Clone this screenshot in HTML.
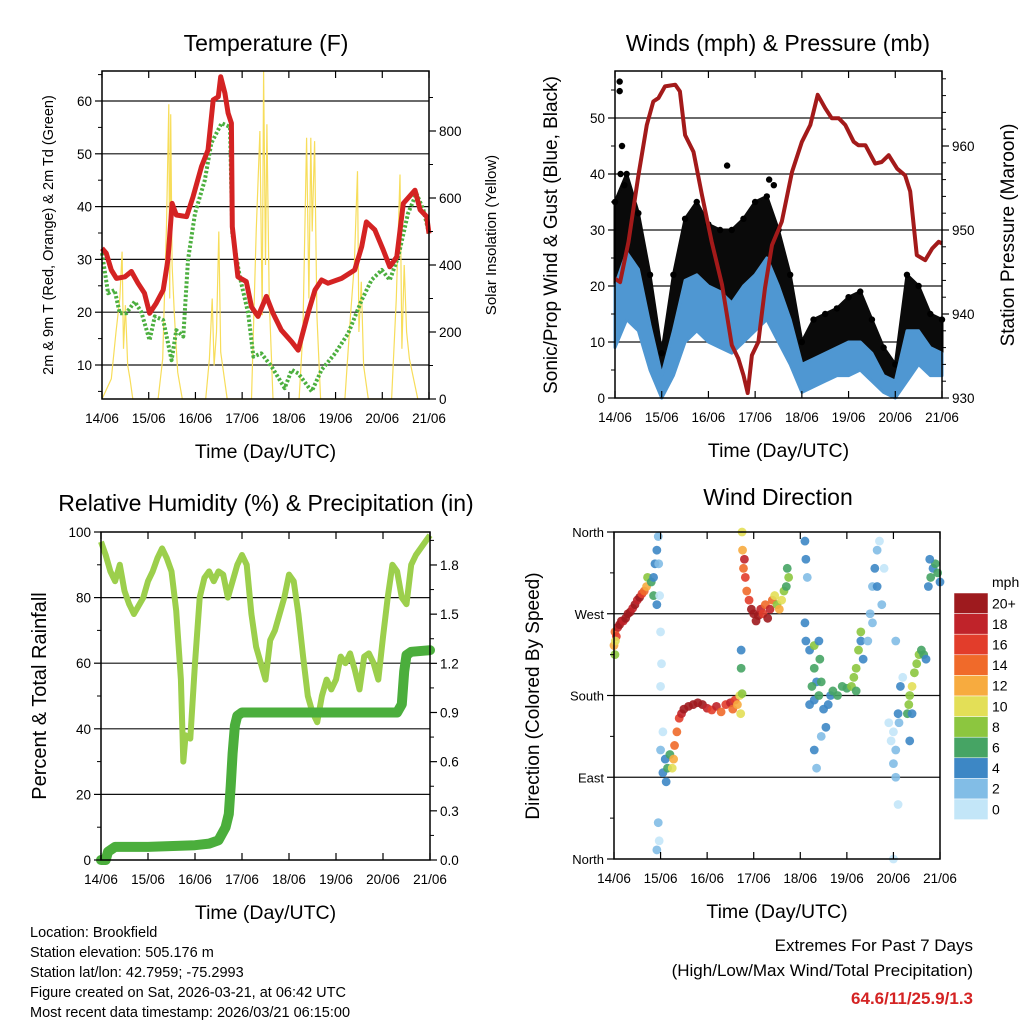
<!DOCTYPE html>
<html><head><meta charset="utf-8">
<style>
html,body{margin:0;padding:0;background:#fff;}
svg{display:block;font-family:"Liberation Sans",Arial,sans-serif;}
</style></head>
<body>
<svg id="chart" width="1024" height="1024" viewBox="0 0 1024 1024"></svg>
<script>
// ---------- DATA ----------
const dayLabels = ["14/06","15/06","16/06","17/06","18/06","19/06","20/06","21/06"];
// Temperature panel
const tempTime = [0,0.09,0.2,0.31,0.49,0.63,0.77,0.91,1.02,1.16,1.31,1.41,1.5,1.59,1.81,1.95,2.13,2.27,2.38,2.49,2.54,2.63,2.7,2.77,2.79,2.91,3.09,3.2,3.34,3.52,3.66,3.84,4.06,4.2,4.41,4.56,4.7,4.84,5.13,5.41,5.56,5.66,5.84,6.02,6.16,6.31,6.45,6.7,6.81,6.95,7.0];
const tempValues = [32.1,31.2,28,26.4,26.7,27.7,25.5,23.6,19.8,21.7,24.2,29.9,40.6,38.4,38.1,41.9,47.6,50.7,60.2,60.8,64.6,61.5,57.7,55.8,36.2,26.7,25.8,21,19.2,23,19.8,16.6,14.4,12.8,19.8,24.2,26.1,25.5,26.4,28,32.4,37.1,35.6,31.8,28.6,30.5,40.6,43.1,39.4,38.1,34.9];
const dewTime = [0,0.13,0.27,0.38,0.52,0.7,0.84,1.02,1.13,1.31,1.49,1.59,1.74,1.84,1.99,2.2,2.34,2.56,2.74,2.79,2.95,3.13,3.24,3.41,3.63,3.91,4.06,4.2,4.49,4.7,4.99,5.27,5.56,5.77,5.99,6.16,6.34,6.55,6.73,6.88,7.0];
const dewValues = [31.2,23.6,24.2,19.8,19.8,22,20.1,14.7,19.2,18.5,10.9,16.6,15.4,29.9,38.7,45,52,55.8,55.1,34.9,26.7,19.8,11.6,12.2,9.7,5.6,9.1,8.4,5,9.1,12.2,16,22.3,26.1,28,26.1,30.5,38.7,42.5,39.4,34.9];
const solarTime = [0,0.2,0.3,0.38,0.43,0.46,0.5,0.55,0.6,0.66,1.2,1.3,1.38,1.43,1.45,1.47,1.5,1.55,1.62,1.72,2.22,2.3,2.36,2.4,2.45,2.5,2.54,2.6,2.68,3.2,3.3,3.38,3.43,3.46,3.5,3.53,3.58,3.66,4.22,4.3,4.38,4.43,4.47,4.5,4.55,4.6,4.68,5.2,5.32,5.4,5.47,5.5,5.55,5.6,5.7,6.2,6.3,6.38,6.42,6.47,6.52,6.58,6.7,6.76];
const solarValues = [0,60,200,300,440,150,280,100,60,0,0,120,520,880,300,850,400,250,80,0,0,120,300,100,200,500,140,80,0,0,500,800,250,980,400,820,300,0,0,200,780,300,780,500,770,250,0,0,250,400,680,200,350,100,0,0,300,670,150,400,200,120,40,0];
// Winds panel
const windTime = [0,0.25,0.5,0.75,1,1.25,1.5,1.75,2,2.25,2.5,2.75,3,3.25,3.5,3.75,4,4.25,4.5,4.75,5,5.25,5.5,5.75,6,6.25,6.5,6.75,7];
const windLo = [9,14,12,5,0,4,10,12,10,9,8,10,12,14,10,6,1,2,3,4,4,5,3,1,0,3,6,4,4];
const windHi = [20,26,23,13,4,12,21,22,20,19,17,20,22,25,20,14,6,7,8,9,10,10,8,4,3,12,12,9,8];
const gustLo = [18,22,20,10,2,10,20,20,18,16,15,18,20,22,17,12,3,5,7,8,9,9,6,3,1,6,10,7,7];
const gustHi = [35,40,33,22,8,22,32,35,31,30,30,32,35,36,30,22,10,14,15,16,18,19,14,9,6,22,20,15,14];
const gustOutT = [0.1,0.1,0.15,0.12,2.4,3.3,3.4,0.2];
const gustOutV = [56.5,54.8,45,40,41.5,39,38,38];
const presTime = [0,0.11,0.29,0.5,0.68,0.82,0.93,1.07,1.29,1.39,1.5,1.68,1.86,2.07,2.29,2.5,2.64,2.75,2.84,2.93,3.07,3.21,3.36,3.57,3.79,4,4.18,4.34,4.5,4.64,4.79,4.93,5.11,5.21,5.36,5.57,5.71,5.86,6.04,6.21,6.32,6.46,6.64,6.79,6.93,7];
const presValues = [944.2,943.8,948.6,956.5,962.5,965.3,965.7,967.1,967.3,966.5,961.3,959.3,954.2,948.6,943.5,936.3,934.7,932.7,930.6,935.1,936.7,943.1,948.2,951,956.9,960.5,962.5,966.1,964.5,963.3,963.3,962.5,960.5,960.1,960.1,957.9,958.1,958.9,957.3,956.5,954.6,947,946.4,947.8,948.6,948.4];
// RH panel
const rhTime = [0,0.1,0.2,0.3,0.4,0.5,0.6,0.7,0.9,1,1.1,1.2,1.3,1.4,1.5,1.6,1.7,1.75,1.8,1.9,2,2.1,2.2,2.3,2.4,2.5,2.6,2.7,2.8,2.9,3,3.1,3.2,3.3,3.4,3.5,3.6,3.7,3.8,3.9,4,4.1,4.2,4.3,4.4,4.5,4.6,4.7,4.8,4.9,5,5.1,5.2,5.3,5.4,5.5,5.6,5.7,5.8,5.9,6,6.1,6.2,6.3,6.4,6.5,6.6,6.7,6.8,6.9,7];
const rhValues = [97,93,88,85,90,82,78,75,80,85,88,92,95,92,88,76,55,30,38,37,60,80,86,88,85,88,87,80,85,90,93,90,75,65,60,55,67,70,75,80,87,85,75,62,50,45,42,50,55,52,55,62,60,63,58,52,62,63,60,55,68,80,90,88,80,78,90,93,95,97,99];
const rainTime = [0,0.1,0.15,0.3,1,2,2.3,2.5,2.65,2.72,2.76,2.8,2.85,2.9,3,4,5,6,6.3,6.4,6.45,6.5,6.6,7];
const rainValues = [0,0,0.05,0.08,0.08,0.09,0.1,0.12,0.2,0.28,0.45,0.65,0.82,0.88,0.9,0.9,0.9,0.9,0.9,0.95,1.15,1.25,1.27,1.28];
// Wind direction panel
const dirTime = [0,0.02,0.05,0.08,0.12,0.16,0.2,0.25,0.3,0.35,0.4,0.45,0.5,0.55,0.6,0.65,0.7,0.02,0.03,
0.72,0.8,0.85,0.88,0.92,0.95,0.92,0.85,0.96,
0.98,1.0,1.02,1.0,1.05,1.0,0.95,0.92,0.97,
1.05,1.1,1.12,1.15,1.2,1.25,1.28,1.3,1.35,1.4,1.45,1.5,1.6,1.7,1.8,1.9,2.0,2.1,2.2,2.3,2.4,2.5,2.55,2.6,2.65,2.7,2.72,2.75,2.73,2.73,
2.75,2.76,2.78,2.8,2.82,2.85,2.9,2.95,3.0,3.05,3.1,3.15,3.2,3.25,3.3,3.35,3.4,3.45,3.5,3.55,3.6,3.65,3.7,3.75,3.72,
4.1,4.12,4.15,4.1,4.12,4.2,4.3,4.3,4.35,4.4,4.42,4.45,4.3,4.35,4.45,4.2,4.25,4.3,4.4,4.5,4.55,4.6,4.65,4.7,4.8,4.9,5.0,5.1,5.15,5.2,5.25,5.3,5.3,5.35,5.2,
5.45,5.5,5.55,5.6,5.65,5.7,5.65,5.55,5.75,5.8,
5.9,5.95,6.0,6.05,6.1,6.05,6.0,6.1,6.12,6.15,6.2,6.0,6.05,
6.3,6.33,6.35,6.4,6.45,6.5,6.55,6.6,6.65,6.7,6.4,6.35,
6.75,6.8,6.85,6.9,6.95,7.0,6.78];
const dirValues = [235,250,245,255,258,262,262,265,270,272,276,280,285,288,292,295,300,225,240,
310,305,310,325,340,355,280,290,325,
290,250,215,190,140,120,40,10,20,
95,110,85,100,115,100,110,125,140,155,160,165,168,170,172,170,166,164,168,162,170,172,165,175,170,180,160,182,210,230,
360,340,320,330,310,295,285,275,270,262,268,275,270,280,265,275,285,290,280,275,285,295,300,310,320,
350,330,310,260,240,230,235,210,195,240,220,195,120,100,135,170,190,175,180,165,145,170,180,185,180,190,188,190,200,210,230,250,240,220,185,
240,270,300,320,340,350,300,260,280,320,
150,130,105,90,60,120,140,160,150,190,200,0,240,
160,170,180,190,205,215,225,230,225,220,160,130,
300,310,320,325,315,305,330];
const dirSpeed = [12,14,16,18,20,20,18,20,20,20,18,20,18,20,16,14,12,8,10,
8,6,4,4,4,2,4,6,2,
0,0,0,0,0,2,2,2,0,
4,4,4,6,6,10,12,14,14,16,18,20,20,20,20,20,18,16,18,14,16,18,14,16,12,10,10,8,6,4,
10,12,14,18,16,14,16,20,20,20,20,18,16,14,20,18,14,10,8,12,10,8,6,8,6,
4,4,2,4,4,4,8,6,4,4,6,6,4,2,2,4,6,4,6,4,4,4,4,6,6,6,6,8,8,8,8,8,4,4,6,
2,2,2,4,2,0,4,2,2,0,
0,0,2,2,0,2,0,4,2,4,0,0,2,
6,8,8,10,8,8,8,6,6,4,4,4,
4,6,4,6,6,4,4];
const speedLabels = ["20+","18","16","14","12","10","8","6","4","2","0"];
const speedColors = ["#9e1a1e","#c0232a","#e23d2b","#f06a2a","#f7ab3f","#e3df57","#8cc63f","#46a464","#3d87c5","#82bde6","#c3e6f8"];

// ---------- HELPERS ----------
const NS="http://www.w3.org/2000/svg";
const svg=document.getElementById('chart');
function el(tag,attrs,parent){const e=document.createElementNS(NS,tag);for(const k in attrs)e.setAttribute(k,attrs[k]);(parent||svg).appendChild(e);return e;}
function txt(s,x,y,size,anchor,parent,extra){const t=el('text',Object.assign({x:x,y:y,'font-size':size,'text-anchor':anchor||'middle',fill:'#000'},extra||{}),parent);t.textContent=s;return t;}
function lineStr(xs,ys,fx,fy){return xs.map((t,i)=>(i?'L':'M')+fx(t).toFixed(1)+','+fy(ys[i]).toFixed(1)).join('');}

function panel(name,b,cfg){
  const g=el('g',{},svg);
  
  
  const fx=t=>b.x0+(t/7)*(b.x1-b.x0);
  cfg.grid.forEach(y=>{const l=el('line',{x1:b.x0,x2:b.x1,y1:y,y2:y,stroke:'#111','stroke-width':1.2},g);
    });
  return {g,fx};
}
function frame(g,b){
  const r=el('rect',{x:b.x0,y:b.y0,width:b.x1-b.x0,height:b.y1-b.y0,fill:'none',stroke:'#000','stroke-width':1.5},g);
  
  for(let d=0;d<=7;d++){const x=b.x0+d*(b.x1-b.x0)/7;
    el('line',{x1:x,x2:x,y1:b.y1,y2:b.y1-7,stroke:'#000','stroke-width':1.2},g);
    el('line',{x1:x,x2:x,y1:b.y0,y2:b.y0+7,stroke:'#000','stroke-width':1.2},g);
    const t=txt(dayLabels[d],x,b.y1+24,13.5,'middle',g);
    }
  const xt=txt('Time (Day/UTC)',(b.x0+b.x1)/2,b.y1+59,19.5,'middle',g);
  
}
function yTicks(g,b,side,vals,fy,labels,minor,fs){
  const xe=side==='L'?b.x0:b.x1, dir=side==='L'?-1:1;
  vals.forEach((v,i)=>{const y=fy(v);el('line',{x1:xe,x2:xe+dir*7,y1:y,y2:y,stroke:'#000','stroke-width':1.2},g);
    const t=txt(labels[i],xe+dir*10,y+5,fs||13.5,side==='L'?'end':'start',g);
    });
  (minor||[]).forEach(v=>{const y=fy(v);el('line',{x1:xe,x2:xe+dir*4,y1:y,y2:y,stroke:'#000','stroke-width':1},g);});
}
function ytitle(s,x,y,size,g,name){const t=txt(s,x,y,size,'middle',g,{transform:`rotate(-90 ${x} ${y})`});
  }
function title(s,x,y,name){const t=txt(s,x,y,23,'middle');}

// ---------- PANEL 1: Temperature ----------
(function(){
  const b={x0:102,x1:429,y0:71,y1:399};
  const fyL=v=>365-(v-10)*5.28, fyR=v=>399-v*0.335;
  const {g,fx}=panel('temperature-panel',b,{grid:[10,20,30,40,50,60].map(fyL)});
  const s=el('path',{d:lineStr(solarTime,solarValues,fx,fyR),fill:'none',stroke:'#f7dd5a','stroke-width':1.2},g);
  
  const d=el('path',{d:lineStr(dewTime,dewValues,fx,fyL),fill:'none',stroke:'#4caf3f','stroke-width':4,'stroke-dasharray':'2.5 2','stroke-linejoin':'round'},g);
  
  const t=el('path',{d:lineStr(tempTime,tempValues,fx,fyL),fill:'none',stroke:'#d42323','stroke-width':5,'stroke-linejoin':'round'},g);
  
  frame(g,b);
  yTicks(g,b,'L',[10,20,30,40,50,60],fyL,['10','20','30','40','50','60'],[5,15,25,35,45,55,65]);
  yTicks(g,b,'R',[0,200,400,600,800],fyR,['0','200','400','600','800'],[100,300,500,700,900]);
  ytitle('2m & 9m T (Red, Orange) & 2m Td (Green)',53,235,14.5,g,'left-axis-title');
  ytitle('Solar Insolation (Yellow)',496,235,15,g,'right-axis-title');
  title('Temperature (F)',266,51,'temperature-title');
})();

// ---------- PANEL 2: Winds ----------
(function(){
  const b={x0:615,x1:942,y0:71,y1:398};
  const fyL=v=>398-v*5.6, fyR=v=>398-(v-930)*8.4;
  const {g,fx}=panel('winds-panel',b,{grid:[10,20,30,40,50].map(fyL)});
  const band=(lo,hi,col,name)=>{const dd=lineStr(windTime,hi,fx,fyL)+windTime.slice().reverse().map((t,i)=>'L'+fx(t).toFixed(1)+','+fyL(lo[lo.length-1-i]).toFixed(1)).join('')+'Z';
    const p=el('path',{d:dd,fill:col,stroke:col,'stroke-width':3,'stroke-linejoin':'round'},g);
    };
  band(gustLo,gustHi,'#0a0a0a','gust-band');
  windTime.forEach((tt,i)=>{const c=el('circle',{cx:fx(tt),cy:fyL(gustHi[i]),r:3.2,fill:'#000'},g);
    });
  gustOutT.forEach((tt,i)=>{const c=el('circle',{cx:fx(tt),cy:fyL(gustOutV[i]),r:3.2,fill:'#000'},g);
    });
  band(windLo,windHi,'#4f97d2','wind-band');
  const p=el('path',{d:lineStr(presTime,presValues,fx,fyR),fill:'none',stroke:'#a31a1a','stroke-width':4,'stroke-linejoin':'round'},g);
  
  frame(g,b);
  yTicks(g,b,'L',[0,10,20,30,40,50],fyL,['0','10','20','30','40','50'],[5,15,25,35,45,55]);
  yTicks(g,b,'R',[930,940,950,960],fyR,['930','940','950','960'],[932,934,936,938,942,944,946,948,952,954,956,958,962,964,966,968]);
  ytitle('Sonic/Prop Wind & Gust (Blue, Black)',557,235,19,g,'left-axis-title');
  ytitle('Station Pressure (Maroon)',1014,235,19,g,'right-axis-title');
  title('Winds (mph) & Pressure (mb)',778,51,'winds-title');
})();

// ---------- PANEL 3: RH ----------
(function(){
  const b={x0:101,x1:430,y0:532,y1:860};
  const fyL=v=>860-v*3.28, fyR=v=>860-v*163.9;
  const {g,fx}=panel('humidity-panel',b,{grid:[20,40,60,80].map(fyL)});
  const r=el('path',{d:lineStr(rhTime,rhValues,fx,fyL),fill:'none',stroke:'#9ccf4c','stroke-width':6,'stroke-linejoin':'round'},g);
  
  const p=el('path',{d:lineStr(rainTime,rainValues,fx,fyR),fill:'none',stroke:'#4bae3c','stroke-width':10,'stroke-linejoin':'round','stroke-linecap':'round'},g);
  
  frame(g,b);
  yTicks(g,b,'L',[0,20,40,60,80,100],fyL,['0','20','40','60','80','100'],[10,30,50,70,90]);
  yTicks(g,b,'R',[0,0.3,0.6,0.9,1.2,1.5,1.8],fyR,['0.0','0.3','0.6','0.9','1.2','1.5','1.8'],[0.15,0.45,0.75,1.05,1.35,1.65,1.95]);
  ytitle('Percent & Total Rainfall',46,696,20,g,'left-axis-title');
  title('Relative Humidity (%) & Precipitation (in)',266,511,'humidity-title');
})();

// ---------- PANEL 4: Wind direction ----------
(function(){
  const b={x0:614,x1:940,y0:532,y1:859};
  const fy=v=>859-v*(327/360);
  const {g,fx}=panel('wind-direction-panel',b,{grid:[90,180,270].map(fy)});
  dirTime.forEach((tt,i)=>{const idx=Math.max(0,10-Math.min(10,Math.floor(dirSpeed[i]/2)));
    const c=el('circle',{cx:fx(tt),cy:fy(dirValues[i]),r:4.4,fill:speedColors[idx],'fill-opacity':0.9},g);
    });
  frame(g,b);
  yTicks(g,b,'L',[0,90,180,270,360],fy,['North','East','South','West','North'],[45,135,225,315],13);
  ytitle('Direction (Colored By Speed)',539,696,19,g,'left-axis-title');
  title('Wind Direction',778,505,'wind-direction-title');
  const cb=el('g',{},svg);
  
  const top=593,h=20.6;
  speedColors.forEach((c,i)=>{const r=el('rect',{x:954,y:top+i*h,width:34,height:h,fill:c,stroke:'#fff','stroke-width':0.5},cb);
    
    const t=txt(speedLabels[i],992,top+i*h+h/2+5,14,'start',cb);
    });
  const m=txt('mph',992,587,14,'start',cb);
})();

// ---------- FOOTER ----------
const info=["Location: Brookfield","Station elevation: 505.176 m","Station lat/lon: 42.7959; -75.2993","Figure created on Sat, 2026-03-21, at 06:42 UTC","Most recent data timestamp: 2026/03/21 06:15:00"];
info.forEach((s,i)=>{const t=txt(s,30,937+i*20,14.5,'start');});
const e1=txt('Extremes For Past 7 Days',973,951,17,'end');
const e2=txt('(High/Low/Max Wind/Total Precipitation)',973,976,17,'end');
const e3=txt('64.6/11/25.9/1.3',973,1004,17,'end',null,{fill:'#d42323','font-weight':'bold'});
</script>
</body></html>
